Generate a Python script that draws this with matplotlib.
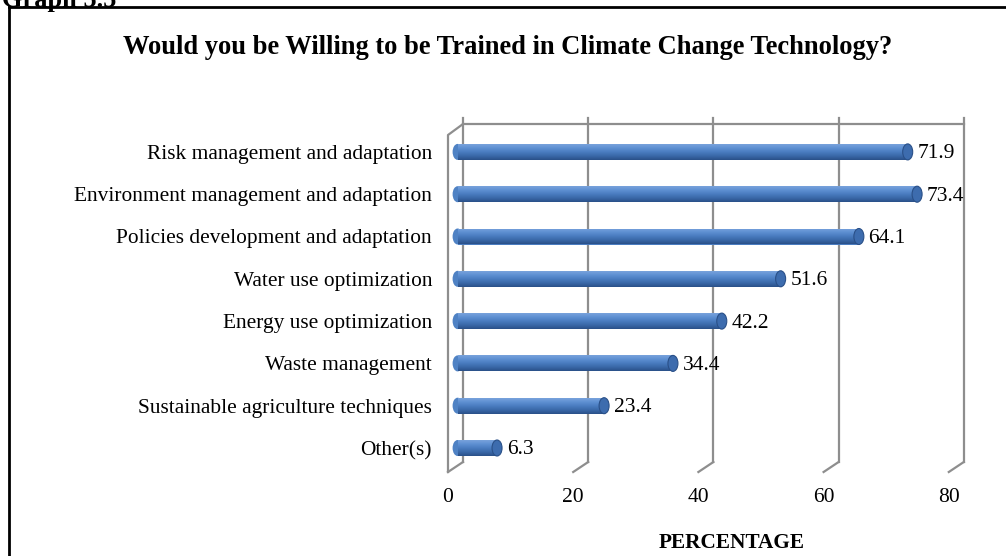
import numpy as np
import matplotlib
matplotlib.use("Agg")
import matplotlib.pyplot as plt
from matplotlib.patches import Ellipse
from matplotlib.colors import LinearSegmentedColormap

# Survey results, listed bottom-to-top
categories = [
    "Other(s)",
    "Sustainable agriculture techniques",
    "Waste management",
    "Energy use optimization",
    "Water use optimization",
    "Policies development and adaptation",
    "Environment management and adaptation",
    "Risk management and adaptation",
]
percentages = [6.3, 23.4, 34.4, 42.2, 51.6, 64.1, 73.4, 71.9]
x_ticks = [0, 20, 40, 60, 80]

title = "Would you be Willing to be Trained in Climate Change Technology?"
x_title = "PERCENTAGE"
graph_label = "Graph 5.5"

plt.rcParams["font.family"] = ["Liberation Serif", "DejaVu Serif"]

W, H = 1006, 556
fig = plt.figure(figsize=(W / 100, H / 100), dpi=100)
fig.patch.set_facecolor("white")

# plot area in pixels
px_left, px_right = 457.6, 958.4
row0_px, row_step = 448.0, 42.3
px_bot = row0_px + 0.5 * row_step
px_top = row0_px - 7.5 * row_step
ax = fig.add_axes([px_left / W, 1 - px_bot / H,
                   (px_right - px_left) / W, (px_bot - px_top) / H])
ax.set_xlim(0, 80)
ax.set_ylim(-0.5, 7.5)
ax.set_facecolor("none")
for s in ax.spines.values():
    s.set_visible(False)

ux = 80 / (px_right - px_left)   # data units per pixel (x)
uy = 1 / row_step                # data units per pixel (y)

def dy(py):
    return (row0_px - py) * uy

# pseudo-3D wall and floor
grid_c = "#8e8e8e"
lw = 1.6
back_dx = 5.4 * ux
front_dx = -9.6 * ux
y_back_bot, y_back_top, y_tick_top = dy(462), dy(124), dy(118)
y_front_bot, y_front_top = dy(472), dy(135)
for v in x_ticks:
    xb, xf = v + back_dx, v + front_dx
    ax.plot([xb, xb], [y_back_bot, y_tick_top], color=grid_c, lw=lw, clip_on=False, zorder=1)
    ax.plot([xb, xf], [y_back_bot, y_front_bot], color=grid_c, lw=lw, clip_on=False, zorder=1)
    ax.text(xf, dy(498), str(v), ha="center", va="center", fontsize=15.5, clip_on=False)
ax.plot([x_ticks[0] + back_dx, x_ticks[-1] + back_dx], [y_back_top, y_back_top],
        color=grid_c, lw=lw, clip_on=False, zorder=1)
ax.plot([x_ticks[0] + front_dx, x_ticks[0] + front_dx, x_ticks[0] + back_dx],
        [y_front_bot, y_front_top, y_back_top], color=grid_c, lw=lw, clip_on=False, zorder=1)

# cylinder-style bars
ypos = np.arange(len(categories))
bar_h = 16 * uy
bars = ax.barh(ypos, percentages, height=bar_h, color="#4a7cc0", edgecolor="none", zorder=3)
cmap = LinearSegmentedColormap.from_list(
    "cyl", ["#78a2dc", "#5e90d2", "#4a7cc0", "#3a68a8", "#2a5088"])
grad = np.linspace(0, 1, 64).reshape(-1, 1)
cap_w = 10 * ux
for b, v in zip(bars, percentages):
    y0 = b.get_y()
    yc = y0 + bar_h / 2
    ax.add_patch(Ellipse((0, yc), cap_w, bar_h, facecolor="#4f82c4",
                         edgecolor="none", zorder=3, clip_on=False))
    im = ax.imshow(grad, cmap=cmap, aspect="auto", origin="upper",
                   extent=[0, v, y0, y0 + bar_h], zorder=3)
    im.set_clip_path(b)
    ax.add_patch(Ellipse((v, yc), cap_w, bar_h, facecolor="#3d6cae",
                         edgecolor="#2a5088", lw=0.8, zorder=4, clip_on=False))
    ax.annotate(f"{v}", (v, yc - 2 * uy), xytext=(7, 0), textcoords="offset points",
                ha="left", va="center", fontsize=15.5, zorder=5)

ax.set_xticks([])
ax.set_yticks(ypos)
ax.set_yticklabels(categories, fontsize=15.4)
ax.tick_params(axis="y", length=0, pad=18.4)
ax.set_ylim(-0.5, 7.5)
ax.set_xlim(0, 80)

fig.text(508 / W, 1 - 48 / H, title, ha="center", va="center",
         fontsize=19.1, fontweight="bold")
fig.text(732 / W, 1 - 543 / H, x_title, ha="center", va="center",
         fontsize=15.3, fontweight="bold")
fig.text(2 / W, 1 - 1 / H, graph_label, ha="left", va="center",
         fontsize=19, fontweight="bold")

# outer frame (left and top edges)
fig.add_artist(plt.Line2D([9 / W, 9 / W], [0, 1 - 7 / H], color="black", lw=2,
                          transform=fig.transFigure))
fig.add_artist(plt.Line2D([9 / W, 1], [1 - 7 / H, 1 - 7 / H], color="black", lw=2,
                          transform=fig.transFigure))

fig.savefig("out.png", dpi=100, facecolor="white")
